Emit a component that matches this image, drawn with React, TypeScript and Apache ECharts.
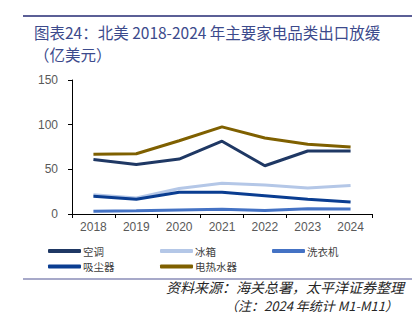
import React, { useEffect, useRef } from "react";
import * as echarts from "echarts";

const years = ["2018", "2019", "2020", "2021", "2022", "2023", "2024"];
const airCon = [61, 55.5, 61.5, 81.5, 54, 70.5, 70.5];
const fridge = [21.5, 18, 28.5, 34.5, 32.5, 29, 32];
const washer = [3, 3.5, 4.5, 5.2, 4, 6, 5.6];
const vacuum = [20, 16.5, 24.3, 24.3, 20.5, 16.5, 13.5];
const heater = [67, 67.5, 82, 97.5, 85, 78, 75];

const seriesNames = ["空调", "冰箱", "洗衣机", "吸尘器", "电热水器"];
const seriesColors = ["#1f3864", "#b4c7e7", "#4472c4", "#0a3d91", "#7f6000"];
const seriesData = [airCon, fridge, washer, vacuum, heater];
const legendPos = [
  [48, 245.5],
  [160, 245.5],
  [272, 245.5],
  [48, 261],
  [160, 261],
];

const CJK = '"Noto Sans CJK SC", "Noto Sans", sans-serif';

export default function App() {
  const ref = useRef<HTMLDivElement>(null);
  useEffect(() => {
    if (!ref.current) return;
    const chart = echarts.init(ref.current, null, { renderer: "svg" });
    chart.setOption({
      animation: false,
      backgroundColor: "#ffffff",
      grid: { left: 72, right: 44, top: 80, bottom: 107 },
      xAxis: {
        type: "category",
        data: years,
        boundaryGap: true,
        axisLine: { lineStyle: { color: "#000", width: 1 } },
        axisTick: { show: true, length: 4, inside: false, lineStyle: { color: "#000" } },
        axisLabel: { color: "#595959", fontSize: 12, fontFamily: "Arial, Liberation Sans", margin: 7 },
      },
      yAxis: {
        type: "value",
        min: 0,
        max: 150,
        interval: 50,
        axisLine: { show: true, lineStyle: { color: "#000", width: 1 } },
        axisTick: { show: true, length: 4, lineStyle: { color: "#000" } },
        splitLine: { show: false },
        axisLabel: { color: "#595959", fontSize: 12, fontFamily: "Arial, Liberation Sans", margin: 14 },
      },
      legend: seriesNames.map((n, i) => ({
        data: [n],
        left: legendPos[i][0],
        top: legendPos[i][1],
        icon: "roundRect",
        itemWidth: 33,
        itemHeight: 4,
        itemGap: 0,
        padding: 0,
        textStyle: { color: "#404040", fontSize: 10.5, lineHeight: 11, fontFamily: CJK, padding: [0, 0, 0, -3] },
      })),
      series: seriesNames.map((n, i) => ({
        name: n,
        type: "line",
        data: seriesData[i],
        symbol: "none",
        lineStyle: { color: seriesColors[i], width: 3 },
        itemStyle: { color: seriesColors[i] },
        z: i === 1 ? 1 : 2,
      })),
      graphic: [
        { type: "line", shape: { x1: 23, y1: 16, x2: 412, y2: 16 }, style: { stroke: "#5b5f96", lineWidth: 2 } },
        {
          type: "text",
          left: 34,
          top: 20.5,
          style: {
            text: "图表24：北美 2018-2024 年主要家电品类出口放缓\n（亿美元）",
            fill: "#3c4a8c",
            font: `15.5px ${CJK}`,
            lineHeight: 22.6,
          },
        },
        { type: "line", shape: { x1: 23, y1: 279, x2: 412, y2: 279 }, style: { stroke: "#a7a9c9", lineWidth: 2 } },
        {
          type: "text",
          right: 12,
          top: 280,
          style: { text: "资料来源：海关总署，太平洋证券整理", fill: "#262626", font: `italic 14px ${CJK}` },
        },
        {
          type: "text",
          right: 18,
          top: 299,
          style: { text: "（注：2024 年统计 M1-M11）", fill: "#262626", font: `italic 13px ${CJK}` },
        },
      ],
    });
    return () => chart.dispose();
  }, []);
  return <div ref={ref} style={{ width: 416, height: 321, position: "absolute", left: 0, top: 0 }} />;
}
